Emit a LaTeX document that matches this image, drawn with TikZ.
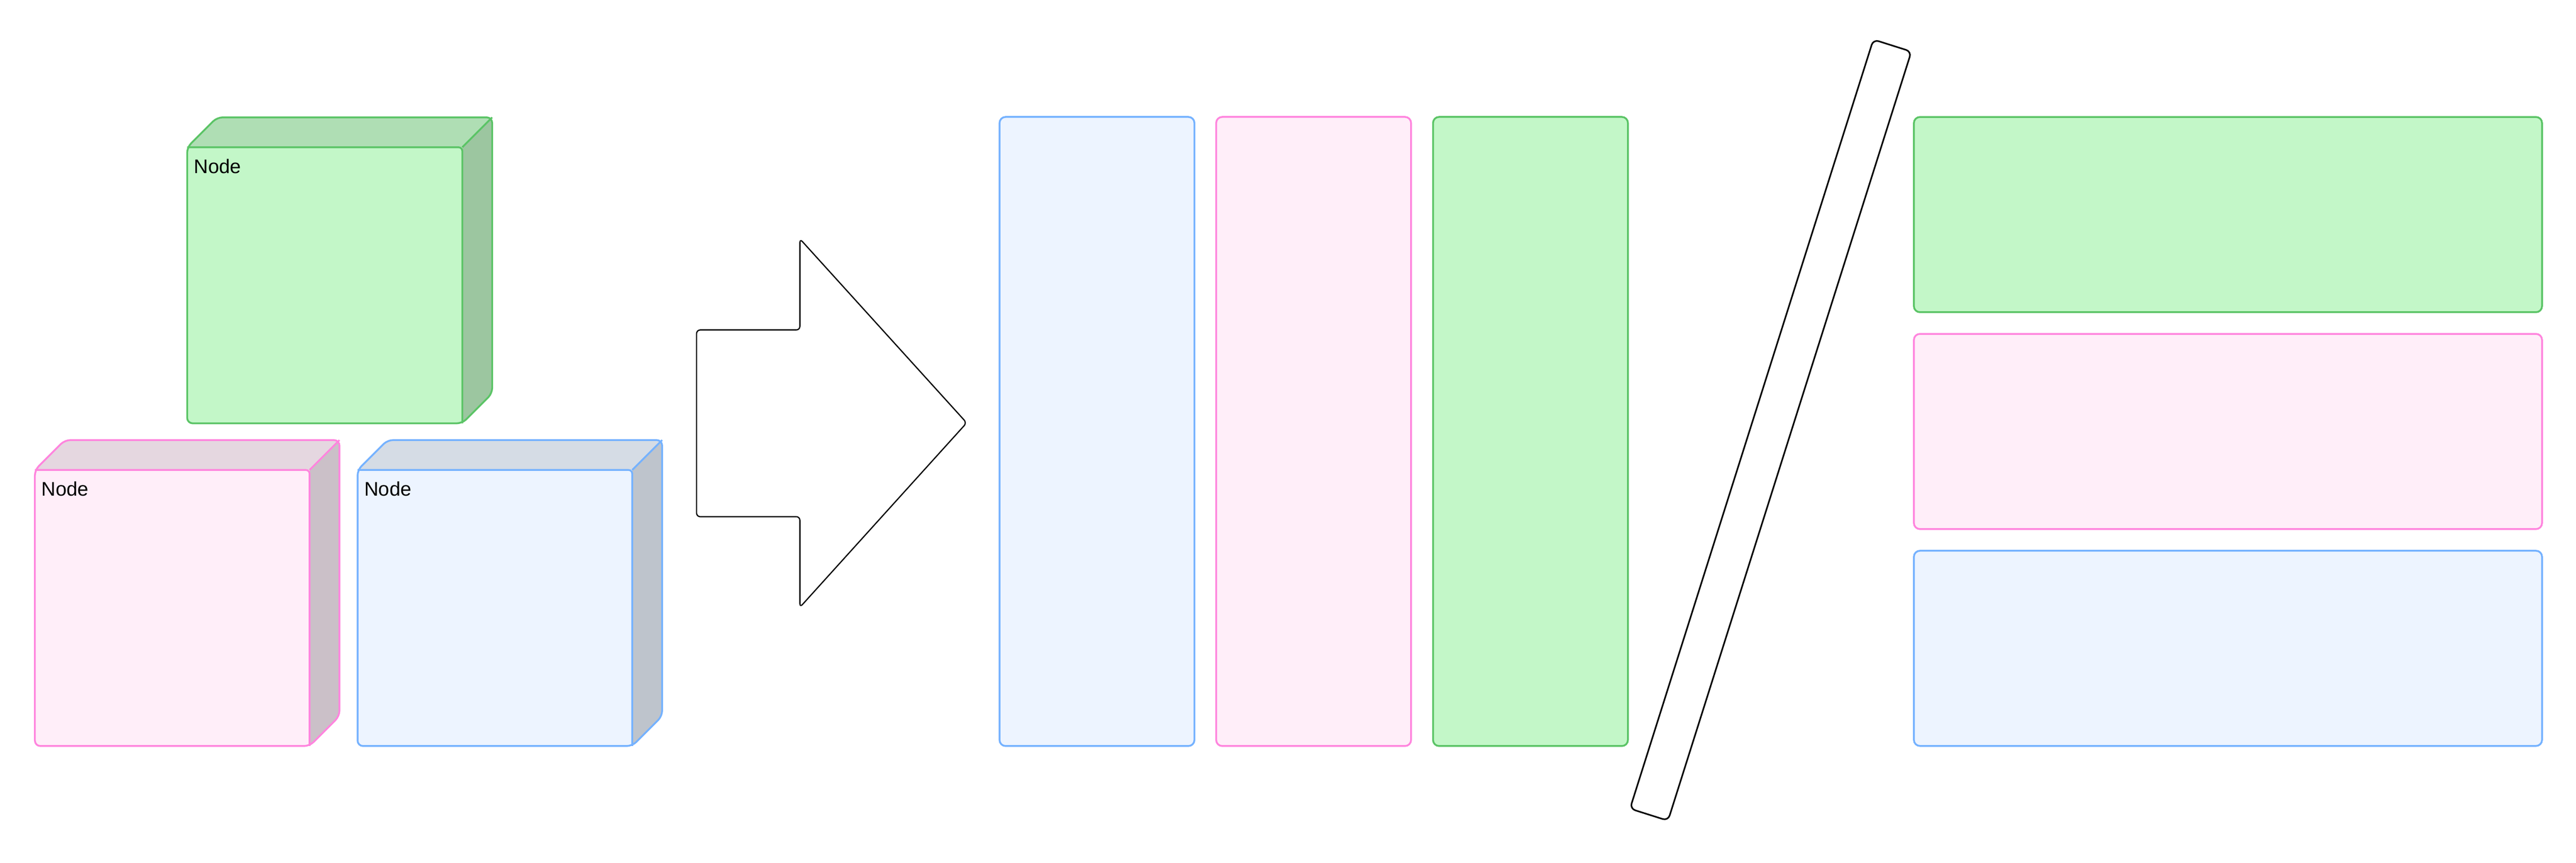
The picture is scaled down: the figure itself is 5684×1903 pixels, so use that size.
\documentclass[tikz,border=0pt]{standalone}
\usepackage{fontspec}
\setmainfont{Liberation Sans}
\definecolor{gfill}{HTML}{C3F7C8}
\definecolor{gtop}{HTML}{AFDEB4}
\definecolor{gside}{HTML}{9CC6A0}
\definecolor{gline}{HTML}{5BC466}
\definecolor{pfill}{HTML}{FFEEF9}
\definecolor{ptop}{HTML}{E5D7E0}
\definecolor{pside}{HTML}{CBC0C8}
\definecolor{pline}{HTML}{FF85DE}
\definecolor{bfill}{HTML}{EDF4FF}
\definecolor{btop}{HTML}{D5DCE5}
\definecolor{bside}{HTML}{BEC4CC}
\definecolor{bline}{HTML}{75B2FF}
\newcommand\drawcube[9]{%
  % #1 x0, #2 y0, #3 w, #4 h, #5 front, #6 top, #7 side, #8 line, #9 name
  \begin{scope}
    \clip[rounded corners=9pt] (#1,#2) -- ++(66,-66) -- ++(#3,0) -- ++(0,#4) -- ++(-66,66) -- ++(-#3,0) -- cycle;
    \fill[#5] (#1,#2) rectangle ++(#3,#4);
    \fill[#6] (#1,#2) -- ++(66,-66) -- ++(#3,0) -- ++(-66,66) -- cycle;
    \fill[#7] (#1,#2) ++(#3,0) -- ++(66,-66) -- ++(0,#4) -- ++(-66,66) -- cycle;
  \end{scope}
  \draw[cubeline, draw=#8, rounded corners=9pt] (#1,#2) -- ++(66,-66) -- ++(#3,0) -- ++(0,#4) -- ++(-66,66) -- ++(-#3,0) -- cycle;
  \draw[cubeline, draw=#8, rounded corners=6pt] (#1,#2) -- ++(#3,0) -- ++(0,#4);
  \draw[cubeline, draw=#8] (#1,#2) ++(#3,0) -- ++(66,-66);
  \node[cubelabel] (#9) at ([xshift=11pt,yshift=-19pt]#1,#2) {Node};
}
\begin{document}
\begin{tikzpicture}[x=0.75pt,y=-0.75pt,
  cubeline/.style={line width=3pt, line join=round},
  cubelabel/.style={anchor=north west, inner sep=0pt, font=\fontsize{32.6}{38}\selectfont, text=black},
  vbar/.style={draw, line width=3pt, rounded corners=10pt, minimum width=322.5pt, minimum height=1041pt, inner sep=0pt},
  hbar/.style={draw, line width=3pt, rounded corners=10pt, minimum width=1039.5pt, minimum height=323pt, inner sep=0pt},
  outline/.style={draw=black, line join=round}]
\useasboundingbox (0,0) rectangle (5684,1903);
\fill[white] (0,0) rectangle (5684,1903);

% cubes
\drawcube{413}{325}{607}{609}{gfill}{gtop}{gside}{gline}{cubeG}
\drawcube{77}{1037}{606}{609}{pfill}{ptop}{pside}{pline}{cubeP}
\drawcube{789}{1037}{606}{609}{bfill}{btop}{bside}{bline}{cubeB}

% big arrow
\draw[outline, line width=2pt, rounded corners=6pt]
  (1537,728) -- (1765,728) -- (1765,527) -- (2133,933) -- (1765,1340) -- (1765,1140) -- (1537,1140) -- cycle;

% vertical bars
\node[vbar, draw=bline, fill=bfill] (vB) at (2420.5,952) {};
\node[vbar, draw=pline, fill=pfill] (vP) at (2898.5,952) {};
\node[vbar, draw=gline, fill=gfill] (vG) at (3377,952) {};

% slanted bar
\node[draw=black, line width=2.6pt, rounded corners=9pt, minimum width=66pt, minimum height=1335pt,
  inner sep=0pt, rotate=-17.56] (slash) at (3907,949) {};

% horizontal bars
\node[hbar, draw=gline, fill=gfill] (hG) at (4916,473.5) {};
\node[hbar, draw=pline, fill=pfill] (hP) at (4916,952) {};
\node[hbar, draw=bline, fill=bfill] (hB) at (4916,1430.5) {};
\end{tikzpicture}
\end{document}
